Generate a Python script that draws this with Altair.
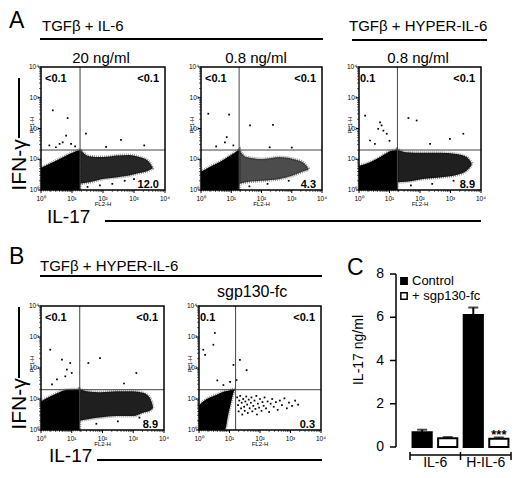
import math
import altair as alt
import pandas as pd

# reference pixel -> chart pixel (page margin)
OFF = 8
FONT = "Liberation Sans"
ONE = pd.DataFrame({"k": [0]})

# ---------------- flow cytometry dot plots (log10 units, 0..4) ----------------
TICKS = [0, 1, 2, 3, 4]
TICK_TEXT = ["10⁰", "10¹", "10²", "10³", "10⁴"]
MINOR = [d + math.log10(k) for d in range(4) for k in range(2, 10)]
GATE_Y = 1.3

# A1: TGFb + IL-6, 20 ng/ml
a1_left_x = [0.0, 0.27, 0.59, 0.91, 1.26]
a1_left_lo = [0, 0, 0, 0, 0]
a1_left_hi = [0.72, 0.85, 1.01, 1.17, 1.32]
a1_right_x = [1.26, 1.56, 1.99, 2.42, 2.85, 3.17, 3.44, 3.6]
a1_right_lo = [0.2, 0.25, 0.36, 0.41, 0.47, 0.55, 0.62, 0.7]
a1_right_hi = [1.32, 1.1, 1.07, 1.12, 1.14, 1.07, 0.96, 0.74]
a1_dots_x = [0.38, 0.86, 0.81, 1.45, 2.58, 0.7, 0.97, 0.27, 3.33, 0.48, 1.1, 0.6, 2.1, 1.5, 1.9, 2.3, 2.7, 3.0]
a1_dots_y = [2.59, 2.34, 1.77, 1.83, 1.63, 1.55, 1.5, 1.45, 1.45, 1.39, 1.42, 1.5, 1.4, 0.1, 0.15, 0.2, 0.3, 0.35]

# A2: TGFb + IL-6, 0.8 ng/ml
a2_left_x = [0.0, 0.3, 0.63, 0.96, 1.26]
a2_left_lo = [0, 0, 0, 0, 0]
a2_left_hi = [0.6, 0.76, 0.92, 1.12, 1.32]
a2_right_x = [1.26, 1.5, 2.05, 2.6, 3.04, 3.37, 3.55]
a2_right_lo = [0.2, 0.25, 0.3, 0.36, 0.47, 0.6, 0.66]
a2_right_hi = [1.32, 1.07, 1.01, 1.07, 1.01, 0.9, 0.7]
a2_dots_x = [0.24, 0.93, 1.62, 2.38, 0.85, 0.79, 2.27, 1.07, 0.5, 3.0, 1.6, 2.2, 2.9]
a2_dots_y = [2.48, 2.45, 2.1, 2.12, 1.72, 1.55, 1.39, 1.45, 1.42, 1.38, 0.12, 0.2, 0.3]

# A3: TGFb + HYPER-IL-6, 0.8 ng/ml
a3_left_x = [0.0, 0.36, 0.69, 1.01, 1.26]
a3_left_lo = [0, 0, 0, 0, 0]
a3_left_hi = [0.79, 0.9, 1.07, 1.26, 1.32]
a3_right_x = [1.26, 1.56, 2.1, 2.66, 3.2, 3.53, 3.69]
a3_right_lo = [0.25, 0.27, 0.36, 0.41, 0.49, 0.63, 0.8]
a3_right_hi = [1.32, 1.23, 1.21, 1.21, 1.17, 1.07, 0.88]
a3_dots_x = [0.2, 0.69, 0.74, 0.8, 0.63, 0.91, 1.62, 1.89, 2.98, 3.42, 0.36, 2.33, 0.52, 1.0, 1.7, 2.4, 3.1]
a3_dots_y = [2.42, 2.2, 2.1, 1.93, 1.99, 1.83, 2.34, 2.26, 1.66, 1.83, 1.61, 1.5, 1.5, 1.6, 0.15, 0.2, 0.3]

# B1: TGFb + HYPER-IL-6
b1_left_x = [0.0, 0.41, 0.84, 1.26]
b1_left_lo = [0, 0, 0, 0]
b1_left_hi = [0.93, 1.14, 1.3, 1.32]
b1_right_x = [1.26, 1.49, 1.92, 2.46, 3.0, 3.32, 3.54, 3.64]
b1_right_lo = [0.3, 0.34, 0.4, 0.45, 0.45, 0.56, 0.62, 0.7]
b1_right_hi = [1.32, 1.25, 1.22, 1.25, 1.25, 1.2, 1.04, 0.77]
b1_dots_x = [0.3, 0.68, 0.95, 0.84, 1.0, 1.54, 1.92, 3.1, 0.52, 0.36, 0.79, 2.7, 1.8, 2.5, 3.2]
b1_dots_y = [2.59, 2.27, 2.16, 1.95, 1.84, 2.16, 2.32, 1.84, 1.63, 1.47, 1.73, 1.5, 0.2, 0.28, 0.4]

# B2: TGFb + HYPER-IL-6 + sgp130-fc
b2_left_x = [0.0, 0.25, 0.58, 0.85, 0.96, 1.07, 1.13, 1.18]
b2_left_lo = [0, 0, 0, 0, 0.5, 0.96, 1.2, 1.3]
b2_left_hi = [0.8, 1.0, 1.14, 1.25, 1.27, 1.3, 1.32, 1.31]
b2_dots_x = [0.52, 0.47, 0.14, 0.2, 1.13, 1.34, 1.56, 1.02, 1.23, 0.8, 0.6,
             1.25, 1.28, 1.3, 1.32, 1.35, 1.38, 1.4, 1.42, 1.45, 1.48, 1.5, 1.52, 1.55, 1.58,
             1.6, 1.63, 1.66, 1.7, 1.72, 1.75, 1.78, 1.82, 1.85, 1.88, 1.9, 1.93, 1.97, 2.0,
             2.05, 2.08, 2.12, 2.15, 2.2, 2.25, 2.3, 2.35, 2.4, 2.45, 2.52, 2.58, 2.65, 2.72,
             2.8, 2.88, 2.95, 3.05, 3.15, 3.25]
b2_dots_y = [3.13, 2.75, 2.59, 2.42, 2.1, 2.26, 1.93, 1.55, 1.61, 1.45, 1.6,
             1.05, 0.8, 0.6, 0.95, 1.1, 0.7, 0.88, 0.5, 1.0, 0.75, 0.62, 0.92, 1.08, 0.82,
             0.55, 0.98, 0.7, 0.88, 1.05, 0.6, 0.78, 0.95, 0.68, 1.1, 0.5, 0.85, 0.72, 1.0,
             0.62, 0.9, 0.78, 1.05, 0.7, 0.92, 0.58, 0.85, 1.0, 0.75, 0.9, 0.65, 0.95, 0.8,
             1.02, 0.7, 0.88, 0.78, 0.95, 0.82]

# ---------------- panel C: IL-17 ELISA ----------------
cytokines = ["IL-6", "H-IL-6"]
treatments = ["Control", "+ sgp130-fc"]
control_mean = [0.68, 6.10]
control_sem = [0.12, 0.35]
sgp_mean = [0.40, 0.38]
sgp_sem = [0.06, 0.06]
stars = ["", "***"]


def label(text, x, y, size, angle=0, align="left", weight="normal", baseline="alphabetic"):
    return alt.Chart(ONE).mark_text(
        text=text, fontSize=size, angle=angle, align=align, fontWeight=weight,
        baseline=baseline, font=FONT, color="black"
    ).encode(x=alt.value(x - OFF), y=alt.value(y - OFF))


def hline(x1, x2, y, width=2):
    return alt.Chart(ONE).mark_rule(color="black", strokeWidth=width).encode(
        x=alt.value(x1 - OFF), x2=alt.value(x2 - OFF), y=alt.value(y - OFF))


def vline(x, y1, y2, width=2):
    return alt.Chart(ONE).mark_rule(color="black", strokeWidth=width).encode(
        x=alt.value(x - OFF), y=alt.value(y1 - OFF), y2=alt.value(y2 - OFF))


def dot_plot(box, left, right, right_op, dots_x, dots_y, gate_x, ul, ur, lr, ul_pad=4):
    l, r, t, b = [v - OFF for v in box]
    xs = alt.Scale(domain=[0, 4], range=[l, r], nice=False, zero=False)
    ys = alt.Scale(domain=[0, 4], range=[b, t], nice=False, zero=False)

    def X(f):
        return alt.X(f, type="quantitative", scale=xs, axis=None)

    def Y(f):
        return alt.Y(f, type="quantitative", scale=ys, axis=None)

    parts = []
    clouds = [(left, 1.0)]
    if right is not None:
        clouds.append((right, right_op))
    for (cx, lo, hi), op in clouds:
        df = pd.DataFrame({"x": cx, "lo": lo, "hi": hi})
        parts.append(alt.Chart(df).mark_area(
            color="black", fillOpacity=op, interpolate="monotone",
            stroke="black", strokeWidth=3, strokeOpacity=0.5, strokeDash=[0.8, 1.2]
        ).encode(x=X("x"), y=Y("lo"), y2="hi"))

    dots = pd.DataFrame({"x": dots_x, "y": dots_y})
    parts.append(alt.Chart(dots).mark_square(size=3, color="black", opacity=1).encode(
        x=X("x"), y=Y("y")))

    edge = pd.DataFrame({"lo": [0], "hi": [4], "gx": [gate_x], "gy": [GATE_Y]})
    parts.append(alt.Chart(edge).mark_rule(color="#444", strokeWidth=1).encode(
        x=X("gx"), y=Y("lo"), y2="hi"))
    parts.append(alt.Chart(edge).mark_rule(color="#444", strokeWidth=1).encode(
        y=Y("gy"), x=X("lo"), x2="hi"))
    parts.append(alt.Chart(edge).mark_rect(filled=False, stroke="black", strokeWidth=1.5).encode(
        x=X("lo"), x2="hi", y=Y("lo"), y2="hi"))

    major = pd.DataFrame({"v": TICKS, "t": TICK_TEXT})
    minor = pd.DataFrame({"v": MINOR})
    parts.append(alt.Chart(major).mark_rule(color="black", strokeWidth=1).encode(
        x=X("v"), y=alt.value(b), y2=alt.value(b + 3)))
    parts.append(alt.Chart(minor).mark_rule(color="black", strokeWidth=0.6).encode(
        x=X("v"), y=alt.value(b), y2=alt.value(b + 2)))
    parts.append(alt.Chart(major).mark_rule(color="black", strokeWidth=1).encode(
        y=Y("v"), x=alt.value(l - 3), x2=alt.value(l)))
    parts.append(alt.Chart(minor).mark_rule(color="black", strokeWidth=0.6).encode(
        y=Y("v"), x=alt.value(l - 2), x2=alt.value(l)))
    parts.append(alt.Chart(major).mark_text(fontSize=6.5, font=FONT, align="center").encode(
        x=X("v"), y=alt.value(b + 9), text="t"))
    parts.append(alt.Chart(major).mark_text(fontSize=6.5, font=FONT, align="right", baseline="middle").encode(
        y=Y("v"), x=alt.value(l - 2), text="t"))

    parts.append(label("FL2-H", (l + r) / 2 + OFF, b + 16 + OFF, 6, align="center"))
    parts.append(label("FL1-H", l - 9 + OFF, t + 58 + OFF, 6, angle=270, align="center", baseline="middle"))

    parts.append(label(ul, l + ul_pad + OFF, t + 15 + OFF, 11, weight="bold"))
    parts.append(label(ur, r - 6 + OFF, t + 15 + OFF, 11, align="right", weight="bold"))
    parts.append(label(lr, r - 6 + OFF, b - 2 + OFF, 11, align="right", weight="bold"))
    return alt.layer(*parts)


layers = [
    dot_plot((41, 165, 67, 190), (a1_left_x, a1_left_lo, a1_left_hi),
             (a1_right_x, a1_right_lo, a1_right_hi), 0.85, a1_dots_x, a1_dots_y, 1.26,
             "<0.1", "<0.1", "12.0"),
    dot_plot((201, 322, 67, 190), (a2_left_x, a2_left_lo, a2_left_hi),
             (a2_right_x, a2_right_lo, a2_right_hi), 0.7, a2_dots_x, a2_dots_y, 1.26,
             "<0.1", "<0.1", "4.3"),
    dot_plot((359, 481, 67, 190), (a3_left_x, a3_left_lo, a3_left_hi),
             (a3_right_x, a3_right_lo, a3_right_hi), 0.88, a3_dots_x, a3_dots_y, 1.26,
             "0.1", "<0.1", "8.9", ul_pad=1),
    dot_plot((41, 164, 306, 430), (b1_left_x, b1_left_lo, b1_left_hi),
             (b1_right_x, b1_right_lo, b1_right_hi), 0.88, b1_dots_x, b1_dots_y, 1.26,
             "<0.1", "<0.1", "8.9"),
    dot_plot((199, 321, 306, 430), (b2_left_x, b2_left_lo, b2_left_hi),
             None, 0, b2_dots_x, b2_dots_y, 1.2,
             "0.1", "<0.1", "0.3", ul_pad=1),
]

# headers and outer axis captions
layers += [
    label("A", 9, 28, 23),
    label("B", 9, 264, 23),
    label("C", 347, 275, 23),
    label("TGFβ + IL-6", 42, 31, 15),
    hline(40, 323, 39),
    label("TGFβ + HYPER-IL-6", 349, 31, 15),
    hline(352, 487, 40),
    label("20 ng/ml", 101, 63, 15, align="center"),
    label("0.8 ng/ml", 256, 63, 15, align="center"),
    label("0.8 ng/ml", 418, 63, 15, align="center"),
    label("IFN-γ", 20, 165, 21, angle=270, align="center", baseline="middle"),
    vline(19, 78, 138),
    label("IL-17", 47, 223, 19),
    hline(105, 481, 221),
    label("TGFβ + HYPER-IL-6", 40, 271, 15),
    hline(40, 322, 276),
    label("sgp130-fc", 217, 297, 16),
    label("IFN-γ", 20, 404, 21, angle=270, align="center", baseline="middle"),
    vline(19, 307, 378),
    label("IL-17", 49, 462, 19),
    hline(97, 322, 460),
]

# panel C bars
rows = []
for i, c in enumerate(cytokines):
    rows.append({"key": c + " " + treatments[0], "treat": treatments[0],
                 "mean": control_mean[i], "top": control_mean[i] + control_sem[i], "star": ""})
    rows.append({"key": c + " " + treatments[1], "treat": treatments[1],
                 "mean": sgp_mean[i], "top": sgp_mean[i] + sgp_sem[i], "star": stars[i]})
bars = pd.DataFrame(rows)

BX0, BX1 = 410, 511
bx = alt.Scale(domain=list(bars["key"]), range=[BX0 - OFF, BX1 - OFF], paddingInner=0.25, paddingOuter=0.1)
by = alt.Scale(domain=[0, 8], range=[447 - OFF, 274 - OFF], nice=False)
fill = alt.Scale(domain=treatments, range=["black", "white"])
CX = alt.X("key:N", scale=bx, axis=None)

axis_df = pd.DataFrame({"lo": [0], "hi": [8]})
yt = pd.DataFrame({"v": [0, 2, 4, 6, 8]})
panel_c = alt.layer(
    alt.Chart(bars).mark_rule(color="black", strokeWidth=2).encode(
        x=CX, y=alt.Y("mean:Q", scale=by, axis=None), y2="top"),
    alt.Chart(bars).mark_tick(color="black", thickness=2, size=10).encode(
        x=CX, y=alt.Y("top:Q", scale=by, axis=None)),
    alt.Chart(bars).mark_bar(stroke="black", strokeWidth=2).encode(
        x=CX, y=alt.Y("mean:Q", scale=by, axis=None),
        fill=alt.Fill("treat:N", scale=fill, legend=None)),
    alt.Chart(bars).mark_text(fontSize=13, fontWeight="bold", font=FONT, dy=-2).encode(
        x=CX, y=alt.Y("top:Q", scale=by, axis=None), text="star:N"),
    alt.Chart(axis_df).mark_rule(color="black", strokeWidth=1.5).encode(
        x=alt.value(396 - OFF), y=alt.Y("lo:Q", scale=by, axis=None), y2="hi"),
    alt.Chart(yt).mark_rule(color="black", strokeWidth=1.5).encode(
        y=alt.Y("v:Q", scale=by, axis=None), x=alt.value(390 - OFF), x2=alt.value(396 - OFF)),
    alt.Chart(yt).mark_text(fontSize=14, font=FONT, align="right", baseline="middle").encode(
        y=alt.Y("v:Q", scale=by, axis=None), x=alt.value(384 - OFF), text="v:Q"),
)

legend_y = alt.Y("treat:N", axis=None,
                 scale=alt.Scale(domain=treatments, range=[281 - OFF, 296 - OFF], padding=0))
legend_c = alt.layer(
    alt.Chart(pd.DataFrame({"treat": treatments})).mark_square(
        size=40, stroke="black", strokeWidth=1.5, opacity=1).encode(
        x=alt.value(404 - OFF), y=legend_y,
        fill=alt.Fill("treat:N", scale=fill, legend=None)),
    alt.Chart(pd.DataFrame({"treat": treatments})).mark_text(
        fontSize=13, font=FONT, align="left", baseline="middle").encode(
        x=alt.value(412 - OFF), y=legend_y, text="treat:N"),
)

mid = (BX0 + BX1) / 2
layers += [
    panel_c,
    legend_c,
    label("IL-17 ng/ml", 359, 350, 14, angle=270, align="center", baseline="middle"),
    hline(BX0, BX1, 455, 1.5),
    vline(BX0, 452, 460, 1.5),
    vline(mid, 452, 460, 1.5),
    vline(BX1, 452, 460, 1.5),
    label(cytokines[0], (BX0 + mid) / 2, 467, 14, align="center"),
    label(cytokines[1], (mid + BX1) / 2, 467, 14, align="center"),
]

chart = alt.layer(*layers).resolve_scale(
    x="independent", y="independent", fill="independent"
).properties(
    width=504, height=462, autosize=alt.AutoSizeParams(type="none"), padding=0
).configure_view(stroke=None).configure_text(font=FONT)

chart.save("out.html", embed_options={"renderer": "svg", "actions": False})
